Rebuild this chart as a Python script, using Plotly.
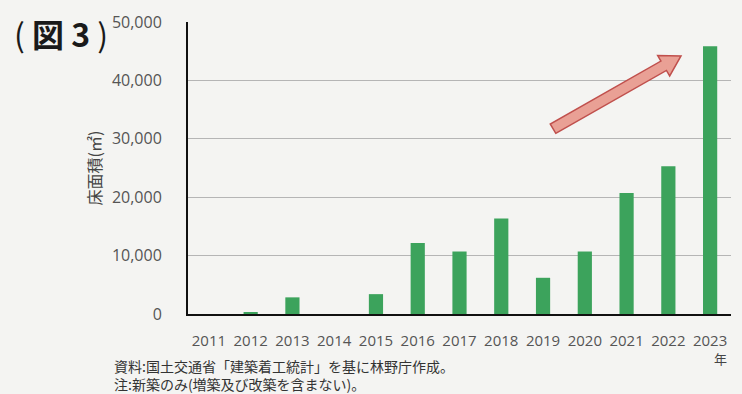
import math
import plotly.graph_objects as go

years = ["2011", "2012", "2013", "2014", "2015", "2016", "2017", "2018", "2019", "2020", "2021", "2022", "2023"]
floor_area = [0, 300, 2850, 0, 3400, 12150, 10700, 16350, 6200, 10700, 20700, 25300, 45850]
y_ticks = [0, 10000, 20000, 30000, 40000, 50000]
y_tick_labels = ["0", "10,000", "20,000", "30,000", "40,000", "50,000"]

W, H = 742, 394
L, R, T, B = 188, 11, 17.5, 79.5
pw, ph = W - L - R, H - T - B


def px2paper(x, y):
    return (x - L) / pw, (H - B - y) / ph


def block_arrow(tail, tip, shaft=5.5, head=12, head_len=20):
    dx, dy = tip[0] - tail[0], tip[1] - tail[1]
    n = math.hypot(dx, dy)
    ux, uy = dx / n, dy / n
    nx, ny = -uy, ux
    bx, by = tip[0] - head_len * ux, tip[1] - head_len * uy
    pts = [
        (tail[0] + shaft * nx, tail[1] + shaft * ny),
        (bx + shaft * nx, by + shaft * ny),
        (bx + head * nx, by + head * ny),
        tip,
        (bx - head * nx, by - head * ny),
        (bx - shaft * nx, by - shaft * ny),
        (tail[0] - shaft * nx, tail[1] - shaft * ny),
    ]
    pp = [px2paper(*p) for p in pts]
    return "M " + " L ".join(f"{a:.5f},{b:.5f}" for a, b in pp) + " Z"


def note(x, y, text, size, color, anchor="left", family="Noto Sans CJK JP"):
    px, py = px2paper(x, y)
    fig.add_annotation(xref="paper", yref="paper", x=px, y=py,
                       xanchor=anchor, yanchor="middle", showarrow=False, align="left",
                       text=text, font=dict(size=size, color=color, family=family))


fig = go.Figure()
fig.add_trace(go.Bar(x=years, y=floor_area, marker=dict(color="#3ca35c", line=dict(width=0)), width=0.34))

bg = "#f4f4f2"
fig.update_layout(
    width=W, height=H,
    margin=dict(l=L, r=R, t=T, b=B, pad=0),
    paper_bgcolor=bg, plot_bgcolor=bg,
    showlegend=False,
    font=dict(family="Open Sans, Noto Sans CJK JP, sans-serif", color="#555555"),
)
fig.update_xaxes(
    type="category",
    showline=True, linecolor="#111111", linewidth=2,
    showgrid=False, ticks="",
    tickfont=dict(size=15, color="#555555"),
    ticklabelstandoff=12,
)
fig.update_yaxes(
    range=[0, 50000],
    tickvals=y_ticks, ticktext=y_tick_labels,
    showline=True, linecolor="#111111", linewidth=2,
    showgrid=True, gridcolor="#b5b5b5", gridwidth=1,
    zeroline=False, ticks="",
    tickfont=dict(size=16, color="#555555"),
    ticklabelstandoff=21,
    title=dict(text="床面積(㎡)", font=dict(size=16, color="#444444", family="Noto Sans CJK JP"), standoff=6),
)

fig.add_shape(type="path", xref="paper", yref="paper",
              path=block_arrow((553, 126), (681, 52)),
              fillcolor="#e9a095", line=dict(color="#c0504d", width=1.5))

note(12, 29, "( <b>図 3</b> )", 32, "#1a1a1a")
note(720, 360, "年", 13, "#444444", anchor="center")
note(112, 377, "資料:国土交通省「建築着工統計」を基に林野庁作成。<br>注:新築のみ(増築及び改築を含まない)。", 14, "#333333")

fig.write_html("out.html")
